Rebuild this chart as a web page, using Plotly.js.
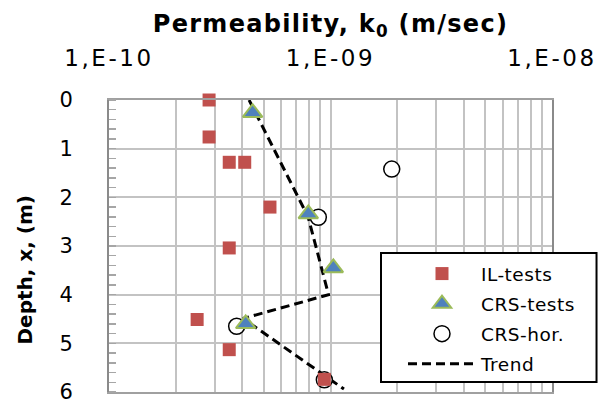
<!DOCTYPE html>
<html>
<head>
<meta charset="utf-8">
<script src="https://cdn.plot.ly/plotly-3.0.1.min.js"></script>
<style>
html,body{margin:0;padding:0;background:#fff;}
#chart{width:598px;height:403px;}
#chart .xtick text{letter-spacing:2.6px;}
#chart .xtitle{letter-spacing:1.3px;}
#chart .legendtext{letter-spacing:0.5px;}
</style>
</head>
<body>
<div id="chart"></div>
<script>
// IL-tests
var ilK = [2.83e-10, 2.83e-10, 3.49e-10, 4.10e-10, 5.33e-10, 3.49e-10, 2.50e-10, 3.49e-10, 9.38e-10];
var ilDepth = [0, 0.76, 1.28, 1.28, 2.20, 3.04, 4.51, 5.13, 5.74];
// CRS-tests
var crsK = [4.45e-10, 7.94e-10, 1.03e-9, 4.14e-10];
var crsDepth = [0.26, 2.34, 3.45, 4.60];
// CRS-hor.
var horK = [1.89e-9, 8.81e-10, 3.77e-10, 9.38e-10];
var horDepth = [1.42, 2.41, 4.65, 5.75];
// Trend
var trendK = [4.29e-10, 7.92e-10, 9.8e-10, 4.03e-10, 1.15e-9];
var trendDepth = [0, 2.40, 4.00, 4.49, 5.94];
// x-axis ticks (log grid)
var xTickVals = [1e-10,2e-10,3e-10,4e-10,5e-10,6e-10,7e-10,8e-10,9e-10,
                 1e-9,2e-9,3e-9,4e-9,5e-9,6e-9,7e-9,8e-9,9e-9,1e-8];
var xTickText = ['1,E-10','','','','','','','','',
                 '1,E-09','','','','','','','','','1,E-08'];
var yTickVals = [0,1,2,3,4,5,6];
var yTickText = ['0','1','2','3','4','5','6'];

var FONT = 'DejaVu Sans';

var traces = [
  {x: trendK, y: trendDepth, name: 'Trend', mode: 'lines', legendrank: 4,
   legendgroup:'d', line: {color: '#000', width: 3, dash: '9px,5px'}},
  {x: horK, y: horDepth, name: 'CRS-hor.', mode: 'markers', legendrank: 3, cliponaxis: false,
   legendgroup:'c', marker: {symbol: 'circle', size: 16, color: '#fff', line: {color: '#000', width: 1.5}}},
  {x: crsK, y: crsDepth, name: 'CRS-tests', mode: 'markers', legendrank: 2, cliponaxis: false,
   legendgroup:'b', marker: {symbol: 'triangle-up', size: 17, color: '#4F81BD', line: {color: '#9BBB59', width: 2}}},
  {x: ilK, y: ilDepth, name: 'IL-tests', mode: 'markers', legendrank: 1, cliponaxis: false,
   legendgroup:'a', marker: {symbol: 'square', size: 13, color: '#C0504D', line: {width: 0}}}
];

var layout = {
  width: 598, height: 403,
  margin: {l: 109, r: 46, t: 100, b: 11, pad: 0},
  paper_bgcolor: '#fff', plot_bgcolor: '#fff',
  font: {family: FONT, color: '#000'},
  showlegend: true,
  legend: {
    x: 0.6185, y: 0.469, xanchor: 'left', yanchor: 'top',
    bgcolor: 'rgba(0,0,0,0)', borderwidth: 0,
    font: {family: FONT, size: 18.5, color: '#000'},
    itemwidth: 68, indentation: 20, tracegroupgap: 3, traceorder: 'grouped'
  },
  shapes: [{
    type: 'rect', xref: 'paper', yref: 'paper', layer: 'above',
    x0: 0.614, x1: 1.1005, y0: 0.034, y1: 0.476,
    fillcolor: '#fff', line: {color: '#000', width: 2}
  }],
  xaxis: {
    type: 'log', range: [-10, -8], side: 'top',
    tickmode: 'array', tickvals: xTickVals, ticktext: xTickText,
    tickfont: {family: FONT, size: 23, color: '#000'},
    ticks: '', ticklabelstandoff: 23,
    showgrid: true, gridcolor: '#c3c3c3', gridwidth: 2,
    showline: true, linecolor: '#a0a0a0', linewidth: 2, mirror: true,
    zeroline: false,
    title: {text: '<b>Permeability, k<sub>0</sub> (m/sec)</b>', standoff: 5,
            font: {family: FONT, size: 24, color: '#000'}}
  },
  yaxis: {
    range: [6, 0], tickmode: 'array', tickvals: yTickVals, ticktext: yTickText,
    tickfont: {family: FONT, size: 21, color: '#000'},
    ticks: '', ticklabelstandoff: 30, ticklabeloverflow: 'allow',
    showgrid: true, gridcolor: '#c3c3c3', gridwidth: 2,
    showline: true, linecolor: '#8a8a8a', linewidth: 2, mirror: true,
    zeroline: false,
    minor: {tick0: 0, dtick: 0.2, ticks: 'inside', ticklen: 7, tickwidth: 1.5, tickcolor: '#a6a6a6', showgrid: false}
  },
  annotations: [{
    text: '<b>Depth, x, (m)</b>', textangle: -90, showarrow: false,
    xref: 'paper', yref: 'paper', x: -0.19, y: 0.419, xanchor: 'center', yanchor: 'middle',
    font: {family: FONT, size: 20, color: '#000'}
  }]
};

Plotly.newPlot('chart', traces, layout, {staticPlot: true, displayModeBar: false});
</script>
</body>
</html>
